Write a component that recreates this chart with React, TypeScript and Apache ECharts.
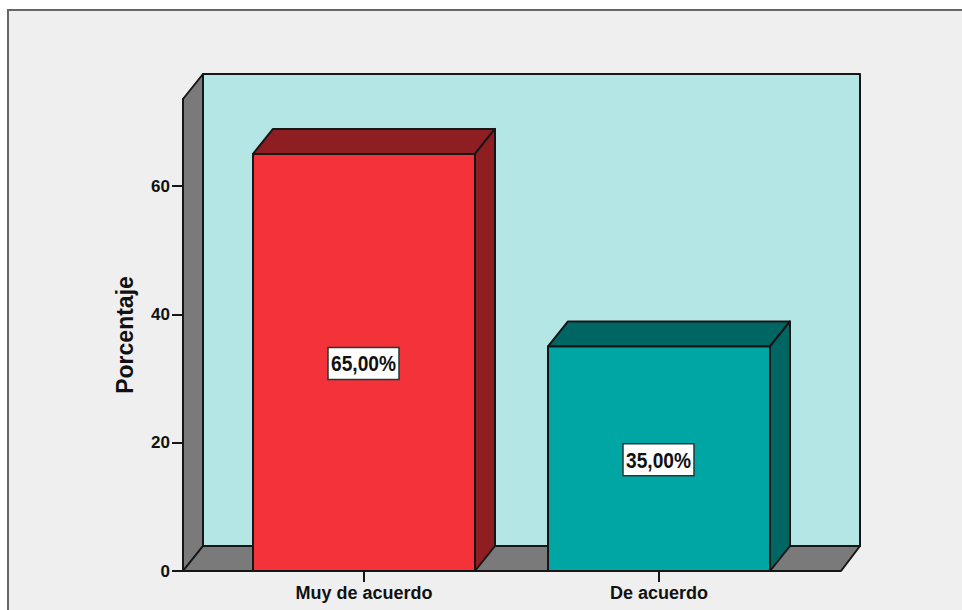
import React, { useEffect, useRef } from "react";
import * as echarts from "echarts";

const categories = ["Muy de acuerdo", "De acuerdo"];
const percentages = [65, 35];
const barLabels = ["65,00%", "35,00%"];
const yTicks = [0, 20, 40, 60];
const yMax = 73.56;

const frontColors = ["#F33239", "#00A6A4"];
const topSideColors = ["#8E1E22", "#006663"];
const outline = "#161616";

// Receding depth of the 3D box, in pixels
const DEPTH_X = 20;
const DEPTH_Y = 25;
// Distance from the plot's category band to the box's outer edges
const BOX_INSET = 33.5;

const poly = (points: number[][], fill: string) => ({
  type: "polygon",
  shape: { points },
  style: { fill, stroke: outline, lineWidth: 2, lineJoin: "round" },
});

function renderBox(params: any, api: any) {
  const c = params.coordSys;
  const l = c.x - BOX_INSET;
  const r = c.x + c.width + BOX_INSET + 1;
  const b = c.y + c.height;
  const t = c.y;
  const gray = "#7A7A7A";
  return {
    type: "group",
    children: [
      poly(
        [
          [l + DEPTH_X, t - DEPTH_Y],
          [r + DEPTH_X - 1, t - DEPTH_Y],
          [r + DEPTH_X - 1, b - DEPTH_Y],
          [l + DEPTH_X, b - DEPTH_Y],
        ],
        "#B5E6E6"
      ),
      poly(
        [
          [l, t],
          [l + DEPTH_X, t - DEPTH_Y],
          [l + DEPTH_X, b - DEPTH_Y],
          [l, b],
        ],
        gray
      ),
      poly(
        [
          [l, b],
          [l + DEPTH_X, b - DEPTH_Y],
          [r + DEPTH_X - 1, b - DEPTH_Y],
          [r, b],
        ],
        gray
      ),
    ],
  };
}

function renderBar(params: any, api: any) {
  const i = api.value(0);
  const top = api.coord([i, api.value(1)]);
  const base = api.coord([i, 0]);
  const w = api.size([1, 0])[0] * 0.7525;
  const x0 = top[0] - w / 2;
  const x1 = top[0] + w / 2;
  const y0 = top[1];
  const y1 = base[1];
  const midY = (y0 + y1) / 2 + 1;
  return {
    type: "group",
    children: [
      poly(
        [
          [x0, y0],
          [x0 + DEPTH_X, y0 - DEPTH_Y],
          [x1 + DEPTH_X, y0 - DEPTH_Y],
          [x1, y0],
        ],
        topSideColors[i]
      ),
      poly(
        [
          [x1, y0],
          [x1 + DEPTH_X, y0 - DEPTH_Y],
          [x1 + DEPTH_X, y1 - DEPTH_Y],
          [x1, y1],
        ],
        topSideColors[i]
      ),
      poly(
        [
          [x0, y0],
          [x1, y0],
          [x1, y1],
          [x0, y1],
        ],
        frontColors[i]
      ),
      {
        type: "rect",
        shape: { x: top[0] - 36, y: midY - 16, width: 71, height: 32 },
        style: { fill: "#FFFFFF", stroke: "#1F3A3A", lineWidth: 1.5 },
      },
      {
        type: "text",
        x: top[0] - 0.5,
        y: midY,
        scaleX: 0.87,
        style: {
          text: barLabels[i],
          fill: "#111111",
          font: 'bold 22px "Liberation Sans", sans-serif',
          align: "center",
          verticalAlign: "middle",
        },
      },
    ],
  };
}

export default function App() {
  const ref = useRef<HTMLDivElement>(null);

  useEffect(() => {
    document.body.style.margin = "0";
    const chart = echarts.init(ref.current!, undefined, { renderer: "svg" });
    const axisLabelFont = {
      fontFamily: '"Liberation Sans", Arial, sans-serif',
      fontWeight: "bold" as const,
      color: "#111111",
    };
    chart.setOption({
      animation: false,
      backgroundColor: "#FFFFFF",
      graphic: [
        {
          type: "rect",
          z: -10,
          silent: true,
          shape: { x: 8, y: 10, width: 1000, height: 700 },
          style: { fill: "#EFEFEF", stroke: "#666666", lineWidth: 2 },
        },
      ],
      grid: { left: 216.5, top: 99, width: 590, height: 472 },
      xAxis: {
        type: "category",
        data: categories,
        axisLine: { show: false },
        axisTick: {
          show: true,
          alignWithLabel: true,
          length: 11,
          lineStyle: { color: outline, width: 2 },
        },
        axisLabel: { ...axisLabelFont, fontSize: 18, margin: 13 },
      },
      yAxis: {
        type: "value",
        min: 0,
        max: yMax,
        offset: 33.5,
        splitLine: { show: false },
        axisLine: { show: true, lineStyle: { color: outline, width: 2 } },
        axisTick: {
          show: true,
          length: 11,
          customValues: yTicks,
          lineStyle: { color: outline, width: 2 },
        },
        axisLabel: {
          ...axisLabelFont,
          fontSize: 17,
          margin: 13,
          customValues: yTicks,
        },
        name: "Porcentaje",
        nameLocation: "middle",
        nameGap: 47,
        nameTextStyle: { ...axisLabelFont, fontSize: 23 },
      },
      series: [
        {
          type: "custom",
          z: 1,
          silent: true,
          renderItem: renderBox,
          data: [[0, 0]],
          encode: { x: 0, y: 1 },
        },
        {
          type: "custom",
          z: 3,
          clip: false,
          renderItem: renderBar,
          data: percentages.map((v, i) => [i, v]),
          encode: { x: 0, y: 1 },
        },
      ],
    });
    return () => chart.dispose();
  }, []);

  return <div ref={ref} style={{ width: 962, height: 610 }} />;
}
